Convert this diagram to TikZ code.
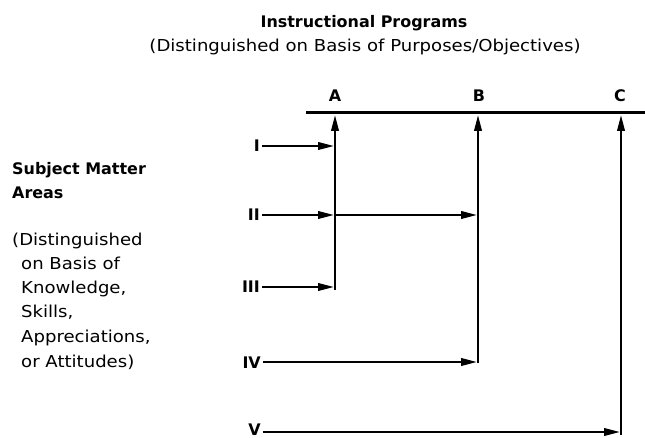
\documentclass[tikz,border=0pt]{standalone}
\usepackage{fontspec}
\setmainfont{DejaVu Sans}
\newfontfamily\regf[FakeStretch=1.1]{DejaVu Sans}
\usetikzlibrary{arrows.meta}
\tikzset{
  boldtxt/.style={inner sep=0pt, font=\fontsize{16}{20}\selectfont\bfseries},
  regtxt/.style={inner sep=0pt, font=\fontsize{16.5}{20}\selectfont\regf},
  numtxt/.style={inner sep=0pt, font=\fontsize{16}{20}\selectfont\bfseries, anchor=base east},
  bar/.style={line width=3bp},
  conn/.style={line width=2.2bp, -{Triangle[length=16bp,width=7.5bp]}}
}
\begin{document}
\begin{tikzpicture}[x=1bp,y=-1bp]
\useasboundingbox (0,0) rectangle (645,438);
% titles
\node[boldtxt, anchor=base] (t1) at (364,28) {Instructional Programs};
\node[regtxt, anchor=base] (t2) at (365,52) {(Distinguished on Basis of Purposes/Objectives)};
% left block
\node[boldtxt, anchor=base west] (s1) at (12,175) {Subject Matter};
\node[boldtxt, anchor=base west] (s2) at (12,199) {Areas};
\node[regtxt, anchor=base west] (d1) at (12,246) {(Distinguished};
\node[regtxt, anchor=base west] (d2) at (21,270) {on Basis of};
\node[regtxt, anchor=base west] (d3) at (21,294) {Knowledge,};
\node[regtxt, anchor=base west] (d4) at (21,318) {Skills,};
\node[regtxt, anchor=base west] (d5) at (21,342) {Appreciations,};
\node[regtxt, anchor=base west] (d6) at (21,367) {or Attitudes)};
% program labels
\node[boldtxt, anchor=base] (A) at (335,102) {A};
\node[boldtxt, anchor=base] (B) at (479,102) {B};
\node[boldtxt, anchor=base] (C) at (620,102) {C};
% bar
\coordinate (barL) at (306,113);
\coordinate (barR) at (645,113);
\draw[bar] (barL) -- (barR);
% vertical line ends
\coordinate (Atop) at (335,115);
\coordinate (Abot) at (335,290);
\coordinate (Btop) at (478,115);
\coordinate (Bbot) at (478,363);
\coordinate (Ctop) at (621,115);
\coordinate (Cbot) at (621,435);
\draw[conn] (Abot) -- (Atop);
\draw[conn] (Bbot) -- (Btop);
\draw[conn] (Cbot) -- (Ctop);
% subject matter numerals
\node[numtxt] (n1) at (260,152) {I};
\node[numtxt] (n2) at (260,221) {II};
\node[numtxt] (n3) at (260,293) {III};
\node[numtxt] (n4) at (261,368) {IV};
\node[numtxt] (n5) at (261,435.5) {V};
% arrows
\coordinate (e1) at (334,146);
\coordinate (e2a) at (334,215);
\coordinate (e2s) at (335,215);
\coordinate (e2b) at (477,215);
\coordinate (e3) at (334,287);
\coordinate (e4) at (477,362);
\coordinate (e5) at (620,432);
\draw[conn] (n1.east |- e1) ++(2,0) -- (e1);
\draw[conn] (n2.east |- e2a) ++(2,0) -- (e2a);
\draw[conn] (e2s) -- (e2b);
\draw[conn] (n3.east |- e3) ++(2,0) -- (e3);
\draw[conn] (n4.east |- e4) ++(2,0) -- (e4);
\draw[conn] (n5.east |- e5) ++(2,0) -- (e5);
\end{tikzpicture}
\end{document}
